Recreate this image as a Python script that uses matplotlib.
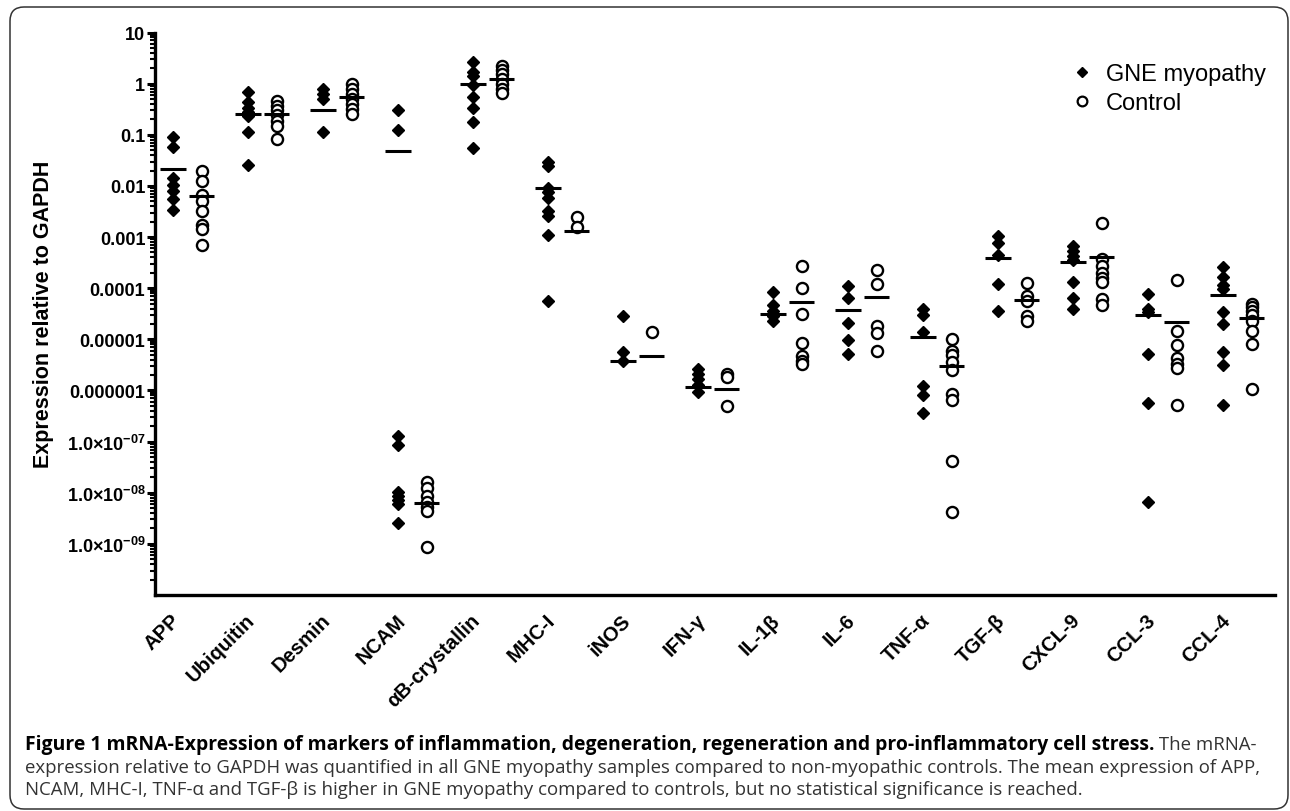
import numpy as np
import matplotlib
matplotlib.use("Agg")
import matplotlib.pyplot as plt
from matplotlib.lines import Line2D
from matplotlib.patches import FancyBboxPatch
from matplotlib.ticker import FixedLocator, NullFormatter
from matplotlib.transforms import ScaledTranslation

plt.rcParams["font.family"] = ["Liberation Sans", "DejaVu Sans"]
plt.rcParams["mathtext.fontset"] = "custom"
plt.rcParams["mathtext.rm"] = "Liberation Sans"
plt.rcParams["mathtext.bf"] = "Liberation Sans:bold"

# ---------------- data ----------------
markers = ["APP", "Ubiquitin", "Desmin", "NCAM", "\u03b1B-crystallin", "MHC-I", "iNOS",
           "IFN-\u03b3", "IL-1\u03b2", "IL-6", "TNF-\u03b1", "TGF-\u03b2", "CXCL-9", "CCL-3", "CCL-4"]

app_gne = [0.089, 0.057, 0.014, 0.0105, 0.0078, 0.0055, 0.0034]
app_ctrl = [0.0199, 0.0127, 0.0065, 0.0051, 0.0033, 0.00173, 0.00144, 0.0007]
ubi_gne = [0.70, 0.43, 0.34, 0.275, 0.23, 0.115, 0.026]
ubi_ctrl = [0.46, 0.37, 0.30, 0.24, 0.19, 0.15, 0.083]
des_gne = [0.79, 0.63, 0.50, 0.115]
des_ctrl = [0.98, 0.79, 0.63, 0.50, 0.40, 0.32, 0.255]
ncam_gne = [0.30, 0.126, 1.31e-7, 8.4e-8, 1.05e-8, 8.8e-9, 7.2e-9, 6.1e-9, 2.6e-9]
ncam_ctrl = [1.6e-8, 1.23e-8, 8.8e-9, 6.5e-9, 5.2e-9, 4.3e-9, 8.6e-10]
cry_gne = [2.68, 1.67, 1.39, 0.94, 0.54, 0.34, 0.18, 0.054]
cry_ctrl = [2.24, 1.88, 1.55, 1.23, 0.99, 0.79, 0.66]
mhc_gne = [0.029, 0.0249, 0.009, 0.0075, 0.0057, 0.0033, 0.00255, 0.0011, 5.7e-5]
mhc_ctrl = [0.00244, 0.00156]
inos_gne = [2.9e-5, 5.6e-6, 3.8e-6]
inos_ctrl = [1.42e-5]
ifn_gne = [2.6e-6, 2.1e-6, 1.68e-6, 1.25e-6, 9.2e-7]
ifn_ctrl = [2.1e-6, 1.8e-6, 4.9e-7]
il1_gne = [8.3e-5, 4.6e-5, 3.6e-5, 2.9e-5, 2.3e-5]
il1_ctrl = [2.76e-4, 1.02e-4, 3.1e-5, 8.5e-6, 4.8e-6, 3.8e-6, 3.3e-6]
il6_gne = [1.12e-4, 6.4e-5, 2.06e-5, 9.7e-6, 5.2e-6]
il6_ctrl = [2.3e-4, 1.21e-4, 1.85e-5, 1.33e-5, 6.0e-6]
tnf_gne = [4.0e-5, 3.0e-5, 1.38e-5, 1.2e-6, 8.2e-7, 3.6e-7]
tnf_ctrl = [1.02e-5, 6.0e-6, 4.95e-6, 3.56e-6, 2.56e-6, 8.6e-7, 6.4e-7, 4.1e-8, 4.2e-9]
tgf_gne = [1.03e-3, 7.7e-4, 4.5e-4, 1.21e-4, 3.5e-5]
tgf_ctrl = [1.25e-4, 7.1e-5, 5.5e-5, 2.9e-5, 2.3e-5]
cxcl9_gne = [6.8e-4, 5.4e-4, 4.3e-4, 3.6e-4, 1.3e-4, 6.5e-5, 4.0e-5]
cxcl9_ctrl = [1.89e-3, 3.7e-4, 2.7e-4, 2.0e-4, 1.56e-4, 1.34e-4, 6.2e-5, 4.7e-5]
ccl3_gne = [7.7e-5, 4.0e-5, 3.4e-5, 5.2e-6, 5.7e-7, 6.5e-9]
ccl3_ctrl = [1.45e-4, 1.44e-5, 7.9e-6, 4.3e-6, 3.3e-6, 2.7e-6, 5.1e-7]
ccl4_gne = [2.56e-4, 1.63e-4, 1.16e-4, 9.7e-5, 3.4e-5, 2.0e-5, 5.6e-6, 3.2e-6, 5.2e-7]
ccl4_ctrl = [4.9e-5, 4.2e-5, 3.6e-5, 3.0e-5, 2.3e-5, 1.48e-5, 8.1e-6, 1.07e-6]

mean_gne = [0.0214, 0.25, 0.31, 0.0475, 0.98, 0.009, 3.8e-6, 1.16e-6, 3.1e-5, 3.8e-5,
            1.13e-5, 3.9e-4, 3.3e-4, 3.0e-5, 7.5e-5]
mean_ctrl = [0.0063, 0.25, 0.55, 6.2e-9, 1.23, 0.00134, 4.8e-6, 1.07e-6, 5.3e-5, 6.6e-5,
             2.97e-6, 6.0e-5, 4.0e-4, 2.2e-5, 2.58e-5]

gne_sets = [app_gne, ubi_gne, des_gne, ncam_gne, cry_gne, mhc_gne, inos_gne, ifn_gne,
            il1_gne, il6_gne, tnf_gne, tgf_gne, cxcl9_gne, ccl3_gne, ccl4_gne]
ctrl_sets = [app_ctrl, ubi_ctrl, des_ctrl, ncam_ctrl, cry_ctrl, mhc_ctrl, inos_ctrl, ifn_ctrl,
             il1_ctrl, il6_ctrl, tnf_ctrl, tgf_ctrl, cxcl9_ctrl, ccl3_ctrl, ccl4_ctrl]

W, H = 1290, 812
fig = plt.figure(figsize=(W / 100, H / 100), dpi=100)
ax = fig.add_axes([155 / W, 1 - 596 / H, (1275 - 155) / W, (596 - 33.5) / H])

off = 0.193
half = 0.167
for i in range(len(markers)):
    g = gne_sets[i]
    c = ctrl_sets[i]
    ax.plot(np.full(len(g), i - off), g, ls="none", marker="D", ms=6.6, color="black",
            clip_on=False, zorder=3)
    ax.plot(np.full(len(c), i + off), c, ls="none", marker="o", ms=8.0, mfc="white",
            mec="black", mew=1.7, clip_on=False, zorder=3)
ax.hlines(mean_gne, np.arange(len(markers)) - off - half, np.arange(len(markers)) - off + half,
          color="black", lw=2.2, zorder=4)
ax.hlines(mean_ctrl, np.arange(len(markers)) + off - half, np.arange(len(markers)) + off + half,
          color="black", lw=2.2, zorder=4)

ax.set_yscale("log")
ax.set_ylim(1e-10, 10)
ax.set_xlim(-0.433, 14.5)

major = [10.0 ** k for k in range(-9, 2)]
ylabels = ["1.0\u00d710$^{\\mathbf{-09}}$", "1.0\u00d710$^{\\mathbf{-08}}$", "1.0\u00d710$^{\\mathbf{-07}}$",
           "0.000001", "0.00001", "0.0001", "0.001", "0.01", "0.1", "1", "10"]
ax.yaxis.set_major_locator(FixedLocator(major))
ax.set_yticklabels(ylabels, fontsize=13, fontweight="bold")
minor = [m * 10.0 ** k for k in range(-10, 1) for m in range(2, 10)]
ax.yaxis.set_minor_locator(FixedLocator(minor))
ax.yaxis.set_minor_formatter(NullFormatter())
ax.tick_params(axis="y", which="major", length=6, width=2.2, direction="out", pad=1)
ax.tick_params(axis="y", which="minor", length=3.5, width=1.5, direction="out")

ax.set_xticks(range(len(markers)))
ax.set_xticklabels(markers, rotation=45, ha="right", rotation_mode="anchor",
                   fontsize=14.6, fontweight="bold")
ax.tick_params(axis="x", length=0, pad=8)
shift = ScaledTranslation(-17 / 100, -4 / 100, fig.dpi_scale_trans)
for lab in ax.get_xticklabels():
    lab.set_transform(lab.get_transform() + shift)

for s in ["top", "right"]:
    ax.spines[s].set_visible(False)
for s in ["left", "bottom"]:
    ax.spines[s].set_linewidth(2.4)

ax.set_ylabel("Expression relative to GAPDH", fontsize=15.5, fontweight="bold")
ax.yaxis.set_label_coords(-0.090, 0.5)

handles = [Line2D([], [], ls="none", marker="D", ms=5.5, color="black"),
           Line2D([], [], ls="none", marker="o", ms=7, mfc="white", mec="black", mew=1.6)]
fig.legend(handles, ["GNE myopathy", "Control"], loc="upper left",
           bbox_to_anchor=(1049 / W, 1 - 43 / H), frameon=False, fontsize=17,
           handletextpad=0.5, labelspacing=0.3, handlelength=1.0)

# frame around the panel
frame = FancyBboxPatch((0.10, 0.02), 12.78, 8.02, boxstyle="round,pad=0,rounding_size=0.14",
                       transform=fig.dpi_scale_trans, fill=False, lw=1.1, ec="#333333")
fig.patches.append(frame)

# caption
cap_font = ["Open Sans", "DejaVu Sans"]
line1_bold = ("Figure 1 mRNA-Expression of markers of inflammation, degeneration, "
              "regeneration and pro-inflammatory cell stress.")
line1_rest = " The mRNA-"
line2 = ("expression relative to GAPDH was quantified in all GNE myopathy samples compared "
         "to non-myopathic controls. The mean expression of APP,")
line3 = ("NCAM, MHC-I, TNF-\u03b1 and TGF-\u03b2 is higher in GNE myopathy compared to controls, "
         "but no statistical significance is reached.")

fs = 12.0
kw = dict(family=cap_font, va="center", ha="left")
t2 = fig.text(25 / W, 1 - 768 / H, line2, fontsize=fs, color="#333333", **kw)
t1 = fig.text(25 / W, 1 - 745 / H, line1_bold, fontsize=fs, fontweight="bold", color="black", **kw)
t1b = fig.text(0.5, 1 - 745 / H, line1_rest, fontsize=fs, color="#333333", **kw)
t3 = fig.text(25 / W, 1 - 790 / H, line3, fontsize=fs, color="#333333", **kw)
fig.canvas.draw()
r = fig.canvas.get_renderer()
fs_norm = fs * 1227 / t2.get_window_extent(r).width
fs_bold = fs * 1122 / t1.get_window_extent(r).width
for t in (t1b, t2, t3):
    t.set_fontsize(fs_norm)
t1.set_fontsize(fs_bold)
fig.canvas.draw()
t1b.set_x(t1.get_window_extent(r).x1 / W)

fig.savefig("out.png", dpi=100)
